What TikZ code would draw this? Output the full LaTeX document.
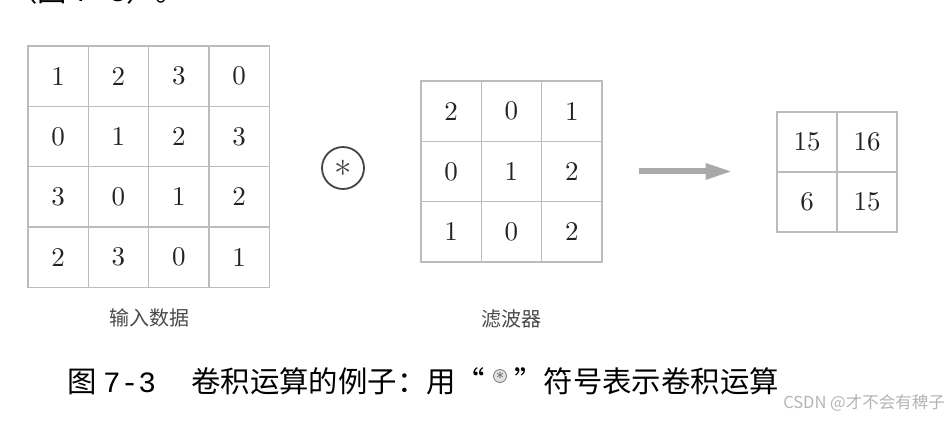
\RequirePackage{fix-cm}
\documentclass[tikz,border=0pt]{standalone}
\usepackage{fontspec}
\newfontfamily\cjk{Noto Sans CJK SC}
\newfontfamily\numfont{lmroman10-regular}[Extension=.otf]
\newfontfamily\monofont{Liberation Mono}
\usetikzlibrary{arrows.meta,positioning}

\definecolor{gridgray}{HTML}{BCBCBC}
\definecolor{numgray}{HTML}{222222}
\definecolor{opgray}{HTML}{444444}
\definecolor{labelgray}{HTML}{4A4A4A}
\definecolor{arrowgray}{HTML}{A9A9A9}
\definecolor{markgray}{HTML}{B4B4B4}

\tikzset{
  cell/.style={draw=gridgray, line width=1.2pt, minimum size=#1, inner sep=0pt,
    text=numgray, font=\numfont\fontsize{27}{27}\selectfont},
  cell/.default=60.3pt,
  convop/.style={circle, draw=opgray, line width=1.8pt, inner sep=0pt, text=opgray},
  sublabel/.style={text=labelgray, font=\cjk\fontsize{20}{20}\selectfont, inner sep=0pt},
  figcap/.style={font=\cjk\fontsize{29.4}{29.4}\selectfont, inner sep=0pt},
  wmark/.style={text=markgray, font=\cjk\fontsize{16.5}{16.5}\selectfont, inner sep=0pt},
  bigarrow/.style={draw=arrowgray, line width=6pt, -{Triangle[length=27pt,width=15pt]}}
}

\begin{document}
\begin{tikzpicture}[x=1pt,y=-1pt]
  \useasboundingbox (0,0) rectangle (948,424);

  % Line above, cut off by the page
  \node[figcap, anchor=base west] (prevline) at (8,1) {（图 {\monofont 7-3}）。};

  % Input data 4x4
  \foreach [count=\i] \row in {{1,2,3,0},{0,1,2,3},{3,0,1,2},{2,3,0,1}}
    \foreach [count=\j] \v in \row
      \node[cell] (in-\i-\j) at ({28+60.3*(\j-0.5)},{46+60.3*(\i-0.5)}) {\v};
  \node[sublabel, below=21pt of in-4-2.south east] (inlabel) {输入数据};

  % Convolution operator
  \node[convop, minimum size=42pt, font=\fontsize{35}{35}\selectfont] (conv) at (343,168) {$\ast$};

  % Filter 3x3
  \foreach [count=\i] \row in {{2,0,1},{0,1,2},{1,0,2}}
    \foreach [count=\j] \v in \row
      \node[cell] (f-\i-\j) at ({421+60.3*(\j-0.5)},{81+60.3*(\i-0.5)}) {\v};
  \node[sublabel, below=47pt of f-3-2.south] (flabel) {滤波器};

  % Arrow to the output
  \coordinate (arrstart) at ([xshift=36pt]f-2-3.east);
  \coordinate (arrend) at ([xshift=94pt]arrstart);
  \draw[bigarrow] (arrstart) -- (arrend);

  % Output 2x2
  \foreach [count=\i] \row in {{15,16},{6,15}}
    \foreach [count=\j] \v in \row
      \node[cell=60pt] (out-\i-\j) at ({777+60*(\j-0.5)},{112+60*(\i-0.5)}) {\v};

  % Caption
  \node[figcap, anchor=base west] (capnum) at (67,392) {图 {\monofont 7-3}};
  \node[figcap, anchor=base west] (captext) at (191,392) {卷积运算的例子：用“};
  \node[convop, minimum size=13pt, line width=0.9pt, draw=gray, fill=gray!22,
    text=darkgray, font=\fontsize{16}{16}\selectfont] (capop) at (500,376) {$\ast$};
  \node[figcap, anchor=base east] (captext2) at (779,392) {”符号表示卷积运算};

  % Watermark
  \node[wmark, anchor=base east] (wm) at (945,408) {CSDN @才不会有稗子};
\end{tikzpicture}
\end{document}
